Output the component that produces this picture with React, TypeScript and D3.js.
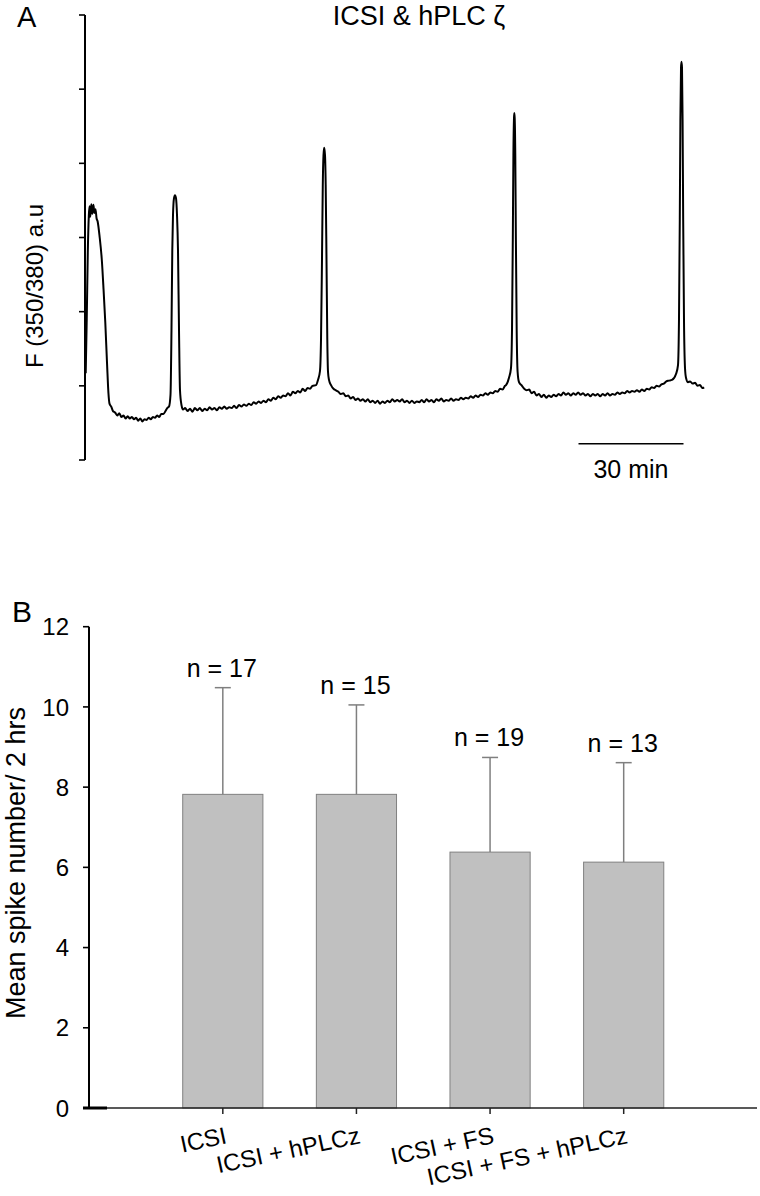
import React from "react";
import * as d3 from "d3";

const W = 760;
const H = 1196;
const FONT = "'Liberation Sans', Arial, Helvetica, sans-serif";

// ---------- Panel A: Ca2+ trace (time in min, F 350/380 ratio in a.u.) ----------
const traceA: [number, number][] = [
  // first response
  [0.2, 1.17], [0.5, 1.9], [0.8, 2.8], [1.1, 3.3], [1.3, 3.42], [1.5, 3.28], [1.8, 3.45], [2.1, 3.32],
  [2.4, 3.44], [2.7, 3.33], [3.0, 3.38], [3.3, 3.26], [3.6, 3.22], [4.2, 3.0], [4.8, 2.7], [5.3, 2.3],
  [5.8, 1.85], [6.3, 1.3], [6.7, 0.9], [7.0, 0.76], [7.5, 0.72],
  // baseline
  [8.0, 0.66], [8.6, 0.64], [9.2, 0.6], [9.8, 0.63], [10.4, 0.58], [11.0, 0.6], [11.6, 0.56], [12.2, 0.59],
  [12.8, 0.56], [13.4, 0.58], [14.0, 0.55], [14.6, 0.57], [15.2, 0.53], [15.8, 0.56], [16.4, 0.52], [17.0, 0.55],
  [17.6, 0.54], [18.2, 0.57], [18.8, 0.55], [19.4, 0.58], [20.0, 0.57], [20.6, 0.6], [21.2, 0.58], [21.8, 0.62],
  [22.4, 0.62], [23.0, 0.66], [23.5, 0.7],
  // spike 2
  [24.0, 0.72], [24.43, 0.88], [24.71, 1.75], [24.94, 2.83], [25.14, 3.3], [25.43, 3.53], [25.71, 3.57],
  [26.0, 3.53], [26.29, 3.3], [26.57, 2.83], [26.86, 1.75], [27.14, 0.94], [27.57, 0.74], [28.0, 0.68],
  // baseline
  [28.6, 0.7], [29.3, 0.66], [30.0, 0.69], [30.7, 0.65], [31.4, 0.7], [32.1, 0.67], [32.8, 0.7], [33.5, 0.66],
  [34.2, 0.69], [34.9, 0.67], [35.6, 0.71], [36.3, 0.68], [37.0, 0.7], [37.7, 0.67], [38.4, 0.71], [39.1, 0.69],
  [39.8, 0.72], [40.5, 0.69], [41.2, 0.71], [41.9, 0.7], [42.6, 0.73], [43.3, 0.7], [44.0, 0.74], [44.7, 0.72],
  [45.4, 0.75], [46.1, 0.73], [46.8, 0.76], [47.5, 0.74], [48.2, 0.78], [48.9, 0.76], [49.6, 0.79], [50.3, 0.77],
  [51.0, 0.8], [51.7, 0.78], [52.4, 0.82], [53.1, 0.8], [53.8, 0.84], [54.5, 0.82], [55.2, 0.86], [55.9, 0.84],
  [56.6, 0.87], [57.3, 0.86], [58.0, 0.9], [58.7, 0.87], [59.4, 0.92], [60.1, 0.9], [60.8, 0.93], [61.5, 0.91],
  [62.2, 0.96], [62.9, 0.93], [63.6, 0.97], [64.3, 0.96], [65.0, 1.0],
  // spike 3
  [66.0, 1.01], [66.57, 1.08], [67.14, 1.2], [67.43, 1.62], [67.71, 2.7], [67.94, 3.71], [68.14, 4.11],
  [68.34, 4.21], [68.57, 4.11], [68.77, 3.71], [69.0, 2.7], [69.23, 1.62], [69.43, 1.19], [69.71, 1.08],
  [70.29, 1.01],
  // baseline
  [71.0, 0.96], [71.7, 0.94], [72.4, 0.92], [73.1, 0.89], [73.8, 0.9], [74.5, 0.86], [75.2, 0.87], [75.9, 0.83],
  [76.6, 0.85], [77.3, 0.81], [78.0, 0.83], [78.7, 0.8], [79.4, 0.82], [80.1, 0.79], [80.8, 0.82], [81.5, 0.78],
  [82.2, 0.8], [82.9, 0.77], [83.6, 0.8], [84.3, 0.76], [85.0, 0.79], [85.7, 0.77], [86.4, 0.8], [87.1, 0.78],
  [87.8, 0.82], [88.5, 0.79], [89.2, 0.81], [89.9, 0.79], [90.6, 0.82], [91.3, 0.78], [92.0, 0.8], [92.7, 0.77],
  [93.4, 0.8], [94.1, 0.77], [94.8, 0.79], [95.5, 0.78], [96.2, 0.81], [96.9, 0.78], [97.6, 0.82], [98.3, 0.79],
  [99.0, 0.81], [99.7, 0.78], [100.4, 0.82], [101.1, 0.8], [101.8, 0.83], [102.5, 0.79], [103.2, 0.81], [103.9, 0.8],
  [104.6, 0.83], [105.3, 0.8], [106.0, 0.82], [106.7, 0.81], [107.4, 0.84], [108.1, 0.82], [108.8, 0.84], [109.5, 0.83],
  [110.2, 0.86], [110.9, 0.84], [111.6, 0.87], [112.3, 0.85], [113.0, 0.88], [113.7, 0.87], [114.4, 0.9], [115.1, 0.88],
  [115.8, 0.91], [116.5, 0.9], [117.2, 0.93], [117.9, 0.92], [118.6, 0.96], [119.3, 0.95], [120.0, 1.0],
  // spike 4
  [120.29, 1.01], [121.14, 1.11], [121.71, 1.24], [122.0, 1.75], [122.23, 2.97], [122.4, 4.11], [122.57, 4.61],
  [122.66, 4.68], [122.77, 4.61], [122.94, 4.11], [123.11, 2.97], [123.34, 1.75], [123.6, 1.19], [124.0, 1.05],
  [124.86, 1.0],
  // baseline
  [125.5, 0.96], [126.2, 0.94], [126.9, 0.95], [127.6, 0.9], [128.3, 0.92], [129.0, 0.87], [129.7, 0.89], [130.4, 0.85],
  [131.1, 0.88], [131.8, 0.84], [132.5, 0.87], [133.2, 0.85], [133.9, 0.88], [134.6, 0.86], [135.3, 0.89], [136.0, 0.87],
  [136.7, 0.91], [137.4, 0.88], [138.1, 0.9], [138.8, 0.87], [139.5, 0.9], [140.2, 0.88], [140.9, 0.91], [141.6, 0.88],
  [142.3, 0.9], [143.0, 0.87], [143.7, 0.89], [144.4, 0.86], [145.1, 0.89], [145.8, 0.87], [146.5, 0.89], [147.2, 0.86],
  [147.9, 0.89], [148.6, 0.87], [149.3, 0.9], [150.0, 0.87], [150.7, 0.89], [151.4, 0.88], [152.1, 0.91], [152.8, 0.89],
  [153.5, 0.91], [154.2, 0.9], [154.9, 0.93], [155.6, 0.91], [156.3, 0.93], [157.0, 0.92], [157.7, 0.94], [158.4, 0.92],
  [159.1, 0.95], [159.8, 0.93], [160.5, 0.96], [161.2, 0.95], [161.9, 0.98], [162.6, 0.97], [163.3, 1.0], [164.0, 0.99],
  [164.7, 1.02], [165.4, 1.03], [166.1, 1.06], [166.8, 1.07],
  // spike 5
  [167.71, 1.08], [168.86, 1.16], [169.43, 1.28], [169.71, 1.89], [169.94, 3.24], [170.11, 4.58], [170.29, 5.29],
  [170.43, 5.37], [170.57, 5.29], [170.74, 4.58], [170.91, 3.24], [171.14, 1.89], [171.43, 1.24], [171.71, 1.11],
  [172.29, 1.05],
  // end
  [172.9, 1.06], [173.6, 1.03], [174.3, 1.04], [175.0, 1.0], [175.7, 1.01], [176.4, 0.97], [176.9, 0.98],
];
const axisATicks = [0, 1, 2, 3, 4, 5, 6];
const scaleBarStart = 141; // min
const scaleBarMinutes = 30;
const scaleBarLevel = 0.22; // a.u.
const titleA = "ICSI & hPLC ζ";
const yLabelA = "F (350/380) a.u";

// ---------- Panel B: mean spike number ----------
const categories = ["ICSI", "ICSI + hPLCz", "ICSI + FS", "ICSI + FS + hPLCz"];
const means = [7.82, 7.82, 6.38, 6.13];
const sds = [2.66, 2.23, 2.36, 2.48];
const nLabels = ["n = 17", "n = 15", "n = 19", "n = 13"];
const yTicksB = [0, 2, 4, 6, 8, 10, 12];
const yLabelB = "Mean spike number/ 2 hrs";

export default function App() {
  // Panel A scales
  const xA = d3.scaleLinear().domain([0, 180]).range([85, 715]);
  const yA = d3.scaleLinear().domain([0, 6]).range([460, 15]);
  const line = d3
    .line<[number, number]>()
    .x((d) => xA(d[0]))
    .y((d) => yA(d[1]))
    .curve(d3.curveMonotoneX);

  // Panel B scales
  const xB = d3.scaleBand<string>().domain(categories).range([156, 690.5]).paddingInner(0.4).paddingOuter(0.2);
  const yB = d3.scaleLinear().domain([0, 12]).range([1108, 626.7]);
  const bw = xB.bandwidth();
  const capW = 16;

  return (
    <svg
      width={W}
      height={H}
      viewBox={`0 0 ${W} ${H}`}
      style={{ position: "absolute", left: 0, top: 0, background: "#fff" }}
      fontFamily={FONT}
    >
      <rect x={0} y={0} width={W} height={H} fill="#fff" />
      {/* ===== Panel A ===== */}
      <text x={17} y={27} fontSize={29}>A</text>
      <text x={419} y={25} fontSize={27} textAnchor="middle">{titleA}</text>
      <line x1={xA(0)} x2={xA(0)} y1={yA(6)} y2={yA(0)} stroke="#000" strokeWidth={2} />
      {axisATicks.map((t) => (
        <line key={t} x1={xA(0) - 6} x2={xA(0)} y1={yA(t)} y2={yA(t)} stroke="#000" strokeWidth={1.6} />
      ))}
      <text transform={`translate(43, 286) rotate(-90)`} fontSize={24} textAnchor="middle">
        {yLabelA}
      </text>
      <path d={line(traceA) || ""} fill="none" stroke="#000" strokeWidth={2} strokeLinejoin="round" />
      <line
        x1={xA(scaleBarStart)}
        x2={xA(scaleBarStart + scaleBarMinutes)}
        y1={yA(scaleBarLevel)}
        y2={yA(scaleBarLevel)}
        stroke="#000"
        strokeWidth={1.5}
      />
      <text
        x={xA(scaleBarStart + scaleBarMinutes / 2)}
        y={yA(scaleBarLevel) + 34}
        fontSize={25}
        textAnchor="middle"
      >
        {scaleBarMinutes} min
      </text>

      {/* ===== Panel B ===== */}
      <text x={12} y={622} fontSize={30}>B</text>
      {categories.map((c, i) => {
        const x0 = xB(c)!;
        const cx = x0 + bw / 2;
        const top = yB(means[i]);
        const errTop = yB(means[i] + sds[i]);
        return (
          <g key={c}>
            <rect x={x0} y={top} width={bw} height={yB(0) - top} fill="#c0c0c0" stroke="#808080" strokeWidth={1} />
            <line x1={cx} x2={cx} y1={top} y2={errTop} stroke="#7f7f7f" strokeWidth={1.5} />
            <line x1={cx - capW / 2} x2={cx + capW / 2} y1={errTop} y2={errTop} stroke="#7f7f7f" strokeWidth={1.5} />
            <text x={cx - 1} y={errTop - 11} fontSize={25} textAnchor="middle">{nLabels[i]}</text>
          </g>
        );
      })}
      {/* x axis */}
      <line x1={83} x2={757} y1={yB(0)} y2={yB(0)} stroke="#222" strokeWidth={1.5} />
      <line x1={83} x2={107} y1={yB(0)} y2={yB(0)} stroke="#000" strokeWidth={3} />
      {categories.map((c) => {
        const cx = xB(c)! + bw / 2;
        return (
          <g key={"xl" + c}>
            <line x1={cx} x2={cx} y1={yB(0)} y2={yB(0) + 6} stroke="#222" strokeWidth={1.5} />
            <text transform={`translate(${cx + 5}, 1143) rotate(-12)`} fontSize={24} textAnchor="end">
              {c}
            </text>
          </g>
        );
      })}
      {/* y axis */}
      <line x1={89} x2={89} y1={yB(12)} y2={yB(0)} stroke="#000" strokeWidth={2} />
      {yTicksB.map((t) => (
        <g key={"yt" + t}>
          <line x1={83} x2={89} y1={yB(t)} y2={yB(t)} stroke="#000" strokeWidth={1.6} />
          <text x={69} y={yB(t)} dy="0.36em" fontSize={24} textAnchor="end">{t}</text>
        </g>
      ))}
      <text transform={`translate(25, 863) rotate(-90)`} fontSize={27} textAnchor="middle">
        {yLabelB}
      </text>
    </svg>
  );
}
